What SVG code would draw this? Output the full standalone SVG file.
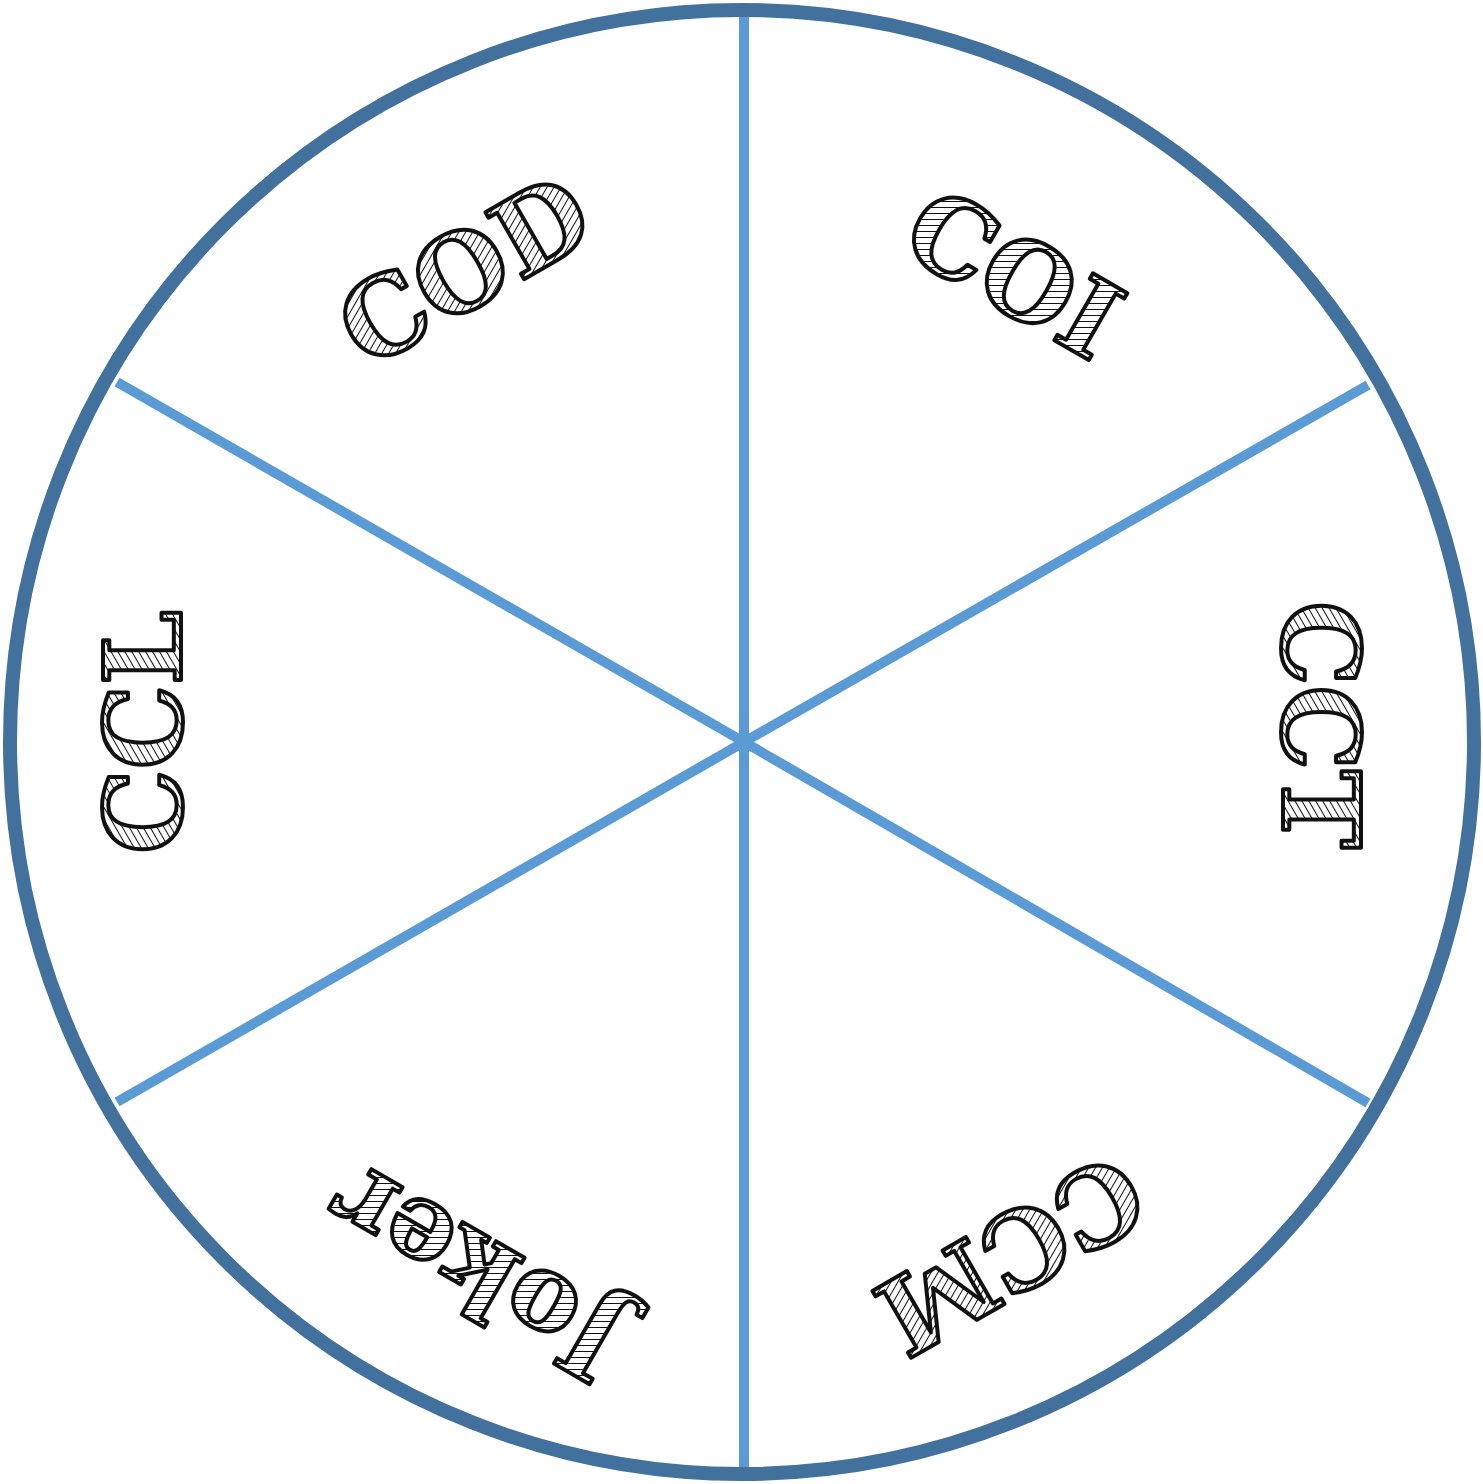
<svg xmlns="http://www.w3.org/2000/svg" width="1483" height="1484" viewBox="0 0 1483 1484">
<style>
.rim{fill:none;stroke:#41719C;stroke-width:14}
.spoke{stroke:#5B9BD5;stroke-width:10;stroke-linecap:butt}
.lbl{font-family:"DejaVu Serif",serif;font-weight:bold;font-size:106px;fill:url(#hatch);stroke:#111;stroke-width:4;stroke-linejoin:round;text-anchor:middle}
</style>
<defs>
<pattern id="hatch" patternUnits="userSpaceOnUse" width="6" height="6" patternTransform="rotate(60)">
<rect width="6" height="6" fill="#fff"/>
<line x1="0" y1="0" x2="0" y2="6" stroke="#111" stroke-width="2"/>
</pattern>
</defs>
<rect width="1483" height="1484" fill="#fff"/>
<g id="connectors">
<line class="spoke" x1="744" y1="16" x2="744" y2="1468"/>
<line class="spoke" x1="744" y1="742" x2="117" y2="382"/>
<line class="spoke" x1="744" y1="742" x2="1368" y2="385"/>
<line class="spoke" x1="744" y1="742" x2="117" y2="1102"/>
<line class="spoke" x1="744" y1="742" x2="1368" y2="1103"/>
</g>
<g id="wheel"><circle class="rim" cx="742" cy="742" r="732"/></g>
<g id="node-COD"><text class="lbl" transform="translate(464 270) rotate(-30)" dy="0.36em">COD</text></g>
<g id="node-COI"><text class="lbl" transform="translate(1014 273) rotate(30)" dy="0.36em">COI</text></g>
<g id="node-CCT"><text class="lbl" transform="translate(1321 725) rotate(90)" dy="0.36em">CCT</text></g>
<g id="node-CCM"><text class="lbl" transform="translate(1011 1255) rotate(150)" dy="0.36em">CCM</text></g>
<g id="node-Joker"><text class="lbl" transform="translate(479 1268) rotate(210)" dy="0.3em">Joker</text></g>
<g id="node-CCL"><text class="lbl" transform="translate(143 732) rotate(-90)" dy="0.36em">CCL</text></g>
</svg>
